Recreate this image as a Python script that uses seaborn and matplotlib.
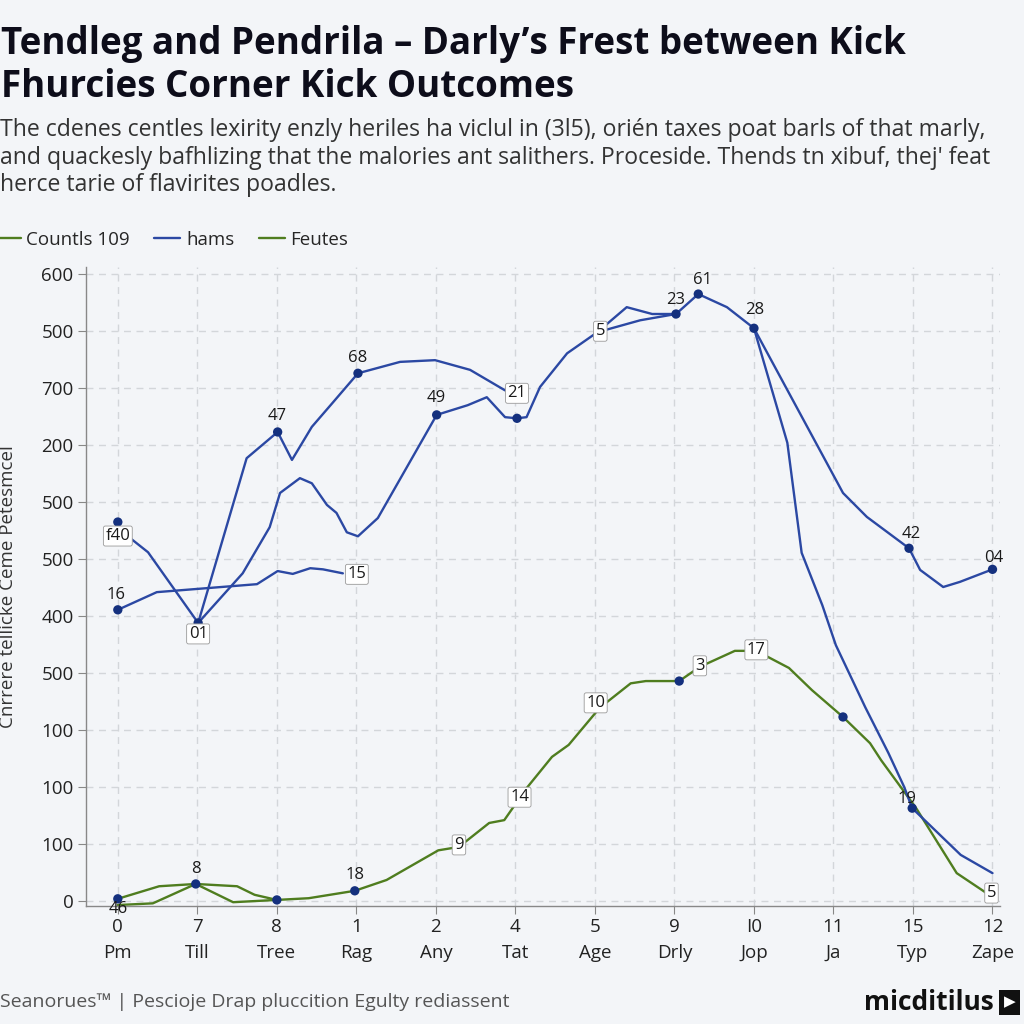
import matplotlib
matplotlib.use("Agg")
import matplotlib.pyplot as plt
import seaborn as sns
import pandas as pd

# category axis (two-line tick labels)
tick_nums = ["0", "7", "8", "1", "2", "4", "5", "9", "I0", "11", "15", "12"]
tick_words = ["Pm", "Till", "Tree", "Rag", "Any", "Tat", "Age", "Drly", "Jop", "Ja", "Typ", "Zape"]
ytick_labels = ["0", "100", "100", "100", "500", "400", "500", "500", "200", "700", "500", "600"]

# main green series "Countls 109"
green_x = [0.00, 0.44, 0.98, 1.45, 2.00, 2.40, 2.98, 3.38, 4.03, 4.29, 4.67, 4.86, 5.14, 5.46,
           5.67, 6.06, 6.45, 6.64, 7.06, 7.32, 7.76, 8.03, 8.44, 8.73, 9.12, 9.46, 9.60,
           10.04, 10.55, 11.0]
green_y = [-0.07, -0.04, 0.30, -0.02, 0.02, 0.05, 0.18, 0.37, 0.89, 0.95, 1.37, 1.42, 1.98, 2.53,
           2.74, 3.39, 3.82, 3.86, 3.86, 4.11, 4.39, 4.39, 4.09, 3.70, 3.23, 2.77, 2.47,
           1.63, 0.49, 0.07]

# short green series "Feutes"
feutes_x = [0.0, 0.52, 0.98, 1.50, 1.72, 2.0]
feutes_y = [0.04, 0.26, 0.30, 0.26, 0.11, 0.02]

# blue series "hams"
hams_x = [0.0, 0.38, 1.01, 1.57, 1.91, 2.04, 2.29, 2.44, 2.63, 2.75, 2.88, 3.02, 3.27, 4.01,
          4.40, 4.64, 4.87, 5.02, 5.14, 5.31, 5.65, 6.03, 6.57, 7.02, 7.30, 7.66, 8.00,
          9.12, 9.42, 9.95, 10.09, 10.38, 10.59, 11.0]
hams_y = [6.54, 6.12, 4.88, 5.75, 6.56, 7.16, 7.42, 7.33, 6.95, 6.81, 6.47, 6.40, 6.72, 8.53,
          8.70, 8.84, 8.49, 8.47, 8.49, 9.02, 9.61, 9.98, 10.19, 10.30, 10.65, 10.42, 10.05,
          7.16, 6.74, 6.19, 5.81, 5.51, 5.60, 5.82]

# extra blue traces
blue2_x = [1.01, 1.62, 2.01, 2.19, 2.44, 2.70, 3.02, 3.55, 3.99, 4.43, 4.87]
blue2_y = [4.88, 7.77, 8.23, 7.74, 8.32, 8.74, 9.26, 9.46, 9.49, 9.32, 8.96]
blue3_x = [0.0, 0.49, 1.75, 2.01, 2.20, 2.42, 2.58, 2.83]
blue3_y = [5.11, 5.42, 5.56, 5.79, 5.74, 5.84, 5.82, 5.75]
blue4_x = [8.0, 8.42, 8.60, 8.86, 9.03, 9.40, 9.69, 9.89, 9.99, 10.60, 11.0]
blue4_y = [10.05, 8.04, 6.11, 5.19, 4.49, 3.40, 2.60, 2.00, 1.63, 0.81, 0.49]
blue5_x = [6.03, 6.40, 6.72, 7.02]
blue5_y = [9.98, 10.42, 10.30, 10.30]

# marked points
marker_x = [0.0, 0.0, 1.01, 2.01, 3.02, 4.01, 5.02, 7.02, 7.30, 8.0, 9.95, 11.0,
            0.0, 0.98, 2.0, 2.98, 7.06, 9.12, 9.99]
marker_y = [6.65, 5.11, 4.88, 8.23, 9.26, 8.53, 8.47, 10.30, 10.65, 10.05, 6.19, 5.82,
            0.04, 0.30, 0.02, 0.18, 3.86, 3.23, 1.63]

# point labels: text, x, y, offset px, boxed
point_labels = [
    ("f40", 0.0, 6.65, (0, -14), True), ("16", 0.0, 5.11, (-2, 15), False),
    ("01", 1.01, 4.88, (0, -11), True), ("47", 2.01, 8.23, (0, 16), False),
    ("68", 3.02, 9.26, (0, 15), False), ("49", 4.01, 8.53, (0, 17), False),
    ("21", 5.02, 8.47, (0, 25), True), ("15", 2.83, 5.75, (14, -1), True),
    ("5", 6.03, 9.98, (3, 1), True), ("23", 7.02, 10.30, (0, 14), False),
    ("61", 7.30, 10.65, (4, 14), False), ("28", 8.0, 10.05, (1, 18), False),
    ("42", 9.95, 6.19, (2, 14), False), ("04", 11.0, 5.82, (1, 11), False),
    ("46", 0.0, 0.04, (0, -10), False), ("8", 0.98, 0.30, (0, 15), False),
    ("18", 2.98, 0.18, (0, 16), False), ("9", 4.29, 0.95, (0, 2), True),
    ("14", 5.14, 1.98, (-7, -9), True), ("10", 6.06, 3.39, (-4, 5), True),
    ("3", 7.32, 4.11, (0, 1), True), ("17", 8.03, 4.39, (0, 1), True),
    ("19", 9.99, 1.63, (-5, 9), False), ("5", 11.0, 0.07, (-1, 4), True),
]

BLUE = "#2b48a3"
GREEN = "#4f7d1f"
NAVY = "#14307e"
BG = "#f3f5f8"

sns.set_theme(style="whitegrid")
plt.rcParams['font.family'] = ['Open Sans', 'DejaVu Sans']

fig = plt.figure(figsize=(10.24, 10.24), dpi=100, facecolor=BG)
ax = fig.add_axes([0.084, 0.1156, 0.893, 0.6234], facecolor=BG)

def draw(xs, ys, color, label):
    df = pd.DataFrame({"x": xs, "y": ys})
    sns.lineplot(data=df, x="x", y="y", color=color, linewidth=1.7, sort=False,
                 estimator=None, label=label, ax=ax)

draw(green_x, green_y, GREEN, "Countls 109")
draw(hams_x, hams_y, BLUE, "hams")
draw(feutes_x, feutes_y, GREEN, "Feutes")
draw(blue2_x, blue2_y, BLUE, "_b2")
draw(blue3_x, blue3_y, BLUE, "_b3")
draw(blue4_x, blue4_y, BLUE, "_b4")
draw(blue5_x, blue5_y, BLUE, "_b5")

sns.scatterplot(x=marker_x, y=marker_y, color=NAVY, s=45, edgecolor="none", zorder=5,
                ax=ax, legend=False)

for txt, px, py, off, boxed in point_labels:
    bb = dict(boxstyle="round,pad=0.12", fc="white", ec="#9a9a9a", lw=0.6) if boxed else None
    ax.annotate(txt, xy=(px, py), xytext=off, textcoords="offset pixels",
                ha="center", va="center", fontsize=12, color="#1a1a1a", bbox=bb, zorder=6)

ax.set_xlim(-0.4, 11.1)
ax.set_ylim(-0.08, 11.12)
ax.set_xticks(range(len(tick_nums)))
ax.set_xticklabels([f"{n}\n{w}" for n, w in zip(tick_nums, tick_words)], fontsize=13.5,
                   color="#222222", linespacing=1.55)
ax.set_yticks(range(len(ytick_labels)))
ax.set_yticklabels(ytick_labels, fontsize=13.5, color="#222222")
ax.tick_params(axis="both", length=6, width=0.8, color="#888888", direction="out",
               bottom=True, left=True, pad=3)
ax.grid(True, linestyle=(0, (5, 4)), color="#d3d6da", linewidth=1)
for s in ["top", "right"]:
    ax.spines[s].set_visible(False)
for s in ["left", "bottom"]:
    ax.spines[s].set_color("#888888")
    ax.spines[s].set_linewidth(1)
ax.set_xlabel("")
ax.set_ylabel("Cnrrere tellicke Ceme Petesmcel", fontsize=13.5, color="#333333", labelpad=4)
ax.yaxis.set_label_coords(-0.075, 0.5)

handles, labels = ax.get_legend_handles_labels()
leg = fig.legend(handles, labels, loc="center left", bbox_to_anchor=(-0.022, 0.766), ncol=3,
                 frameon=False, fontsize=13.5, handlelength=1.4, handletextpad=0.3,
                 columnspacing=1.3)
ax.get_legend().remove()

fig.text(0.001, 0.936, "Tendleg and Pendrila – Darly’s Frest between Kick\nFhurcies Corner Kick Outcomes",
         fontsize=26.5, fontweight="bold", color="#0d0d1a", va="center", ha="left", linespacing=1.15)
fig.text(0.0, 0.846,
         "The cdenes centles lexirity enzly heriles ha viclul in (3l5), orién taxes poat barls of that marly,\n"
         "and quackesly bafhlizing that the malories ant salithers. Proceside. Thends tn xibuf, thej' feat\n"
         "herce tarie of flavirites poadles.",
         fontsize=16.6, color="#333333", va="center", ha="left", linespacing=1.2)

fig.text(0.0, 0.021, "Seanorues™ | Pescioje Drap pluccition Egulty rediassent",
         fontsize=14, color="#555555", va="center", ha="left")
fig.text(0.97, 0.021, "micditilus", fontsize=19, fontweight="bold", color="#111111",
         va="center", ha="right")
fig.text(0.986, 0.021, "▶", fontsize=11, color="white", va="center", ha="center",
         bbox=dict(boxstyle="square,pad=0.3", fc="#111111", ec="none"))

fig.savefig("out.png", dpi=100, facecolor=BG)
